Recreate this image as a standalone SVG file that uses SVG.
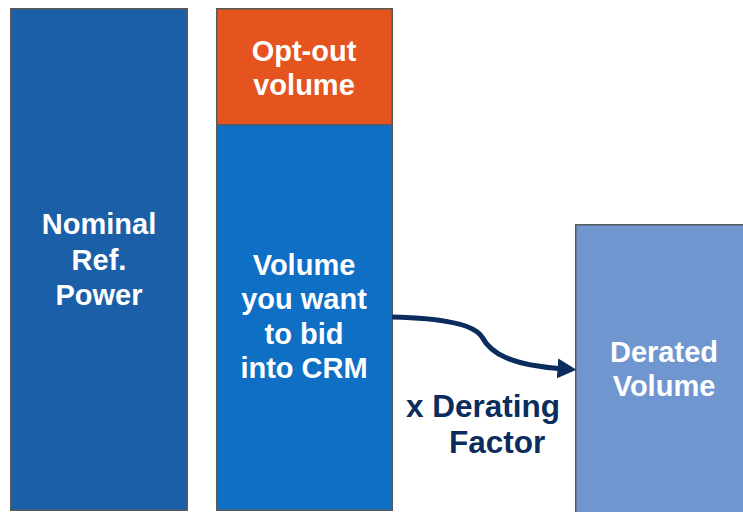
<svg xmlns="http://www.w3.org/2000/svg" width="743" height="512" viewBox="0 0 743 512">
<defs>
<style>
.box{stroke:#595959;stroke-width:1.5}
.lbl{font-family:"Liberation Sans",Arial,sans-serif;font-weight:bold;font-size:29px;fill:#ffffff;text-anchor:middle}
.dark{font-family:"Liberation Sans",Arial,sans-serif;font-weight:bold;font-size:31.5px;fill:#0b2d5e}
</style>
<marker id="ah" markerWidth="4" markerHeight="4" refX="0.3" refY="2" orient="auto" markerUnits="strokeWidth">
<path d="M0,0 L3.8,2 L0,4 Z" fill="#0b2d5e"/>
</marker>
</defs>
<rect width="743" height="512" fill="#ffffff"/>
<g id="nominal">
<rect class="box" x="10.75" y="8.75" width="176.5" height="501.5" fill="#1a5fa8"/>
<text class="lbl" x="99" y="234">Nominal</text>
<text class="lbl" x="99" y="270">Ref.</text>
<text class="lbl" x="99" y="305">Power</text>
</g>
<g id="optout">
<rect class="box" x="216.75" y="8.75" width="175.5" height="116" fill="#e5541f"/>
<text class="lbl" x="304" y="61">Opt-out</text>
<text class="lbl" x="304" y="95">volume</text>
</g>
<g id="bid">
<rect class="box" x="216.75" y="124.75" width="175.5" height="385.5" fill="#0f6fc5"/>
<text class="lbl" x="304" y="275">Volume</text>
<text class="lbl" x="304" y="309">you want</text>
<text class="lbl" x="304" y="344">to bid</text>
<text class="lbl" x="304" y="378">into CRM</text>
</g>
<g id="derated">
<rect class="box" x="575.75" y="224.75" width="180" height="300" fill="#7096cf"/>
<text class="lbl" x="664" y="362">Derated</text>
<text class="lbl" x="664" y="396">Volume</text>
</g>
<g id="connectors">
<path d="M392,317 C440,318 474,324 482,337 C491,354 512,365 559,368.5" fill="none" stroke="#0b2d5e" stroke-width="5" marker-end="url(#ah)"/>
</g>
<g id="factor-label">
<text class="dark" x="406" y="417">x Derating</text>
<text class="dark" x="449" y="453">Factor</text>
</g>
</svg>
